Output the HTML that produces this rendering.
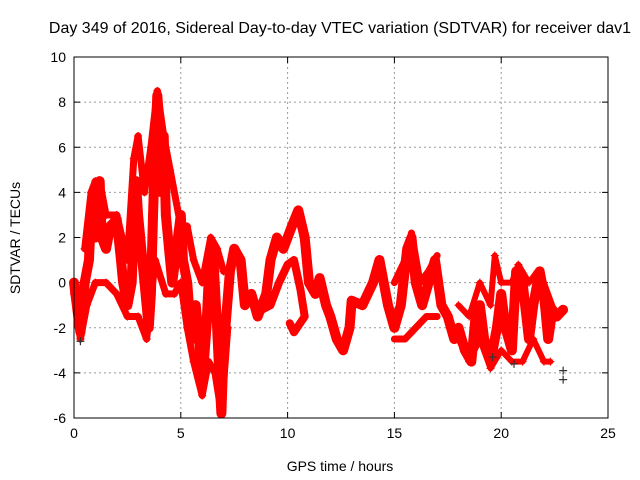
<!DOCTYPE html>
<html><head><meta charset="utf-8"><style>
body{margin:0;background:#fff;}
svg{display:block;font-family:"Liberation Sans",sans-serif;}
</style></head><body>
<svg id="chart" width="640" height="480">
<text x="340" y="33" font-size="16" text-anchor="middle">Day 349 of 2016, Sidereal Day-to-day VTEC variation (SDTVAR) for receiver dav1</text>
<text x="340" y="471" font-size="14" text-anchor="middle">GPS time / hours</text>
<text transform="translate(20,238) rotate(-90)" font-size="14" text-anchor="middle">SDTVAR / TECUs</text>
<g id="grid"></g>
<g id="marks"></g>
<rect x="74" y="57" width="534" height="361" fill="none" stroke="#000" stroke-width="1"/>
</svg>
<script>
const xTicks=[0,5,10,15,20,25];
const yTicks=[-6,-4,-2,0,2,4,6,8,10];
const mainT=[0,0.2,0.3,0.5,0.7,0.8,1,1.2,1.3,1.5,1.7,2,2.2,2.3,2.5,2.7,2.8,2.9,3,3.2,3.4,3.5,3.6,3.7,3.8,3.9,4,4.1,4.2,4.3,4.5,4.6,4.8,5,5.1,5.3,5.5,5.7,5.9,6.0,6.2,6.3,6.5,6.7,6.8,6.9,7,7.3,7.5,7.8,8,8.3,8.6,9,9.2,9.5,9.8,10.2,10.5,10.8,11,11.3,11.5,11.8,12,12.3,12.6,12.9,13,13.5,14,14.3,14.5,14.7,15,15.3,15.6,15.8,16,16.3,16.6,16.9,17.2,17.5,17.8,18,18.3,18.6,18.8,19,19.2,19.5,19.8,20,20.2,20.5,20.7,21,21.3,21.5,21.8,22,22.2,22.4,22.6,22.9];
const mainV=[0,-1.5,-2.2,0,1,3,2,4.5,2,1.5,2.5,2.8,1,0,-1,0,2.5,4.5,3,1,-1,-2,-0.5,3,6,8.3,7,4,6.5,3,1,0,1.5,3,1,0,-2.5,-1,-3,-4.5,-2,0,1.5,-2,-4,-5.8,-3,0.5,1.5,1,-1,-0.5,-1.5,-0.5,1,2,1.5,2.5,3.2,2,0,-0.5,0.2,-1,-1.5,-2.5,-3,-2,-0.8,-1,0,1,0,-1,-2,-1,1.5,2,0,-1,0,1,-1,-1.5,-2.5,-2,-3,-3.5,-1.5,-1,-2.5,-3.5,-2,-0.5,-2,-3,0.5,0,-2.5,-1,0.5,-0.5,-2.5,-1.2,-1.5,-1.2];
const branchT=[8.8,9.2,9.6,10,10.3,10.6,10.8,10.3,10.1];
const branchV=[-1.2,-1,0,0.8,1,-0.3,-1.5,-2.2,-1.8];
const upperT=[0.5,0.8,1,1.3,1.5,2,2.5,2.8,3,3.3,3.6,3.9,4.2,4.5,5,5.3,5.6,6,6.4,6.7,7];
const upperV=[1.5,4,4.5,4,3,3,1,5.5,6.5,4,6,8.5,6.5,5,2.5,2.5,1,0,2,1.5,0.5];
const lowerT=[0,0.3,0.6,1,1.5,2,2.5,3,3.4,3.8,4.3,4.7,5,5.3,5.6,6,6.3,6.6,6.9,7.2];
const lowerV=[-0.5,-2.5,-1,0,0,-0.5,-1.5,-1.5,-2.5,1,-0.5,-0.5,0,-2,-3.5,-5,-3.5,-4,-5.8,-2];
const midUpT=[15,15.5,15.8,16.2,16.6,17];
const midUpV=[0,1,2.2,0,0.5,1.2];
const midLoT=[15,15.5,16,16.5,17];
const midLoV=[-2.5,-2.5,-2,-1.5,-1.5];
const rightUpT=[18,18.5,19,19.5,19.7,20,20.5,20.8,21.3,21.7,22,22.5];
const rightUpV=[-1,-1.5,0,-1,1.2,0,0,0.8,0,0.5,0,-1.3];
const rightLoT=[18,18.5,19,19.5,20,20.5,21,21.5,22,22.3];
const rightLoV=[-2.5,-3.5,-2.5,-3.8,-3,-3.5,-3.5,-2.5,-3.5,-3.5];
const outT=[22.9,22.9,0.3,19.6,20.6];
const outV=[-4.3,-3.9,-2.6,-3.3,-3.6];
const X0=74,X1=608,Y0=418,Y1=57;
const xs=t=>X0+(t-0)/25*(X1-X0);
const ys=v=>Y0-(v+6)/16*(Y0-Y1);
const NS="http://www.w3.org/2000/svg";
const grid=document.getElementById('grid'),marks=document.getElementById('marks'),svg=document.getElementById('chart');
function mk(tag,attrs,parent){const e=document.createElementNS(NS,tag);for(const k in attrs)e.setAttribute(k,attrs[k]);parent.appendChild(e);return e;}
xTicks.forEach(t=>{
 const x=xs(t);
 if(t>0&&t<25){const g=mk('line',{x1:x,x2:x,y1:Y1,y2:Y0,stroke:'#999','stroke-dasharray':'2,3'},grid);
 
 }
 mk('line',{x1:x,x2:x,y1:Y0,y2:Y0-6,stroke:'#000'},grid);
 mk('line',{x1:x,x2:x,y1:Y1,y2:Y1+6,stroke:'#000'},grid);
 const l=mk('text',{x:x,y:Y0+20,'font-size':14,'text-anchor':'middle'},svg);l.textContent=t;
 
 
});
yTicks.forEach(v=>{
 const y=ys(v);
 if(v>-6&&v<10){const g=mk('line',{x1:X0,x2:X1,y1:y,y2:y,stroke:'#999','stroke-dasharray':'2,3'},grid);
 
 }
 mk('line',{x1:X0,x2:X0+6,y1:y,y2:y,stroke:'#000'},grid);
 mk('line',{x1:X1,x2:X1-6,y1:y,y2:y,stroke:'#000'},grid);
 const l=mk('text',{x:X0-8,y:y+5,'font-size':14,'text-anchor':'end'},svg);l.textContent=v;
 
 
});
function trace(T,V,name,w){
 const pl=mk('polyline',{points:T.map((t,i)=>xs(t)+','+ys(V[i])).join(' '),fill:'none',stroke:'#f00','stroke-width':w,'stroke-linejoin':'round','stroke-linecap':'round'},marks);
 
 
}
function pluses(T,V,col,name){
 T.forEach((t,i)=>{const x=xs(t),y=ys(V[i]);
 const p=mk('path',{d:`M${x-4},${y}h8M${x},${y-4}v8`,stroke:col,'stroke-width':1.2},marks);
 
 });
}
trace(mainT,mainV,'sdtvar-main-trace',10);
trace(branchT,branchV,'sdtvar-branch-trace',8);
trace(upperT,upperV,'sdtvar-upper-spread',7);
trace(lowerT,lowerV,'sdtvar-lower-spread',7);
trace(midUpT,midUpV,'sdtvar-mid-upper',7);
trace(midLoT,midLoV,'sdtvar-mid-lower',7);
trace(rightUpT,rightUpV,'sdtvar-right-upper',6);
trace(rightLoT,rightLoV,'sdtvar-right-lower',6);
pluses(mainT,mainV,'#f00','sdtvar-point');
pluses(upperT,upperV,'#f00','sdtvar-point');
pluses(lowerT,lowerV,'#f00','sdtvar-point');
pluses(rightUpT,rightUpV,'#f00','sdtvar-point');
pluses(rightLoT,rightLoV,'#f00','sdtvar-point');
pluses(outT,outV,'#333','outlier-point');
</script>
</body></html>
